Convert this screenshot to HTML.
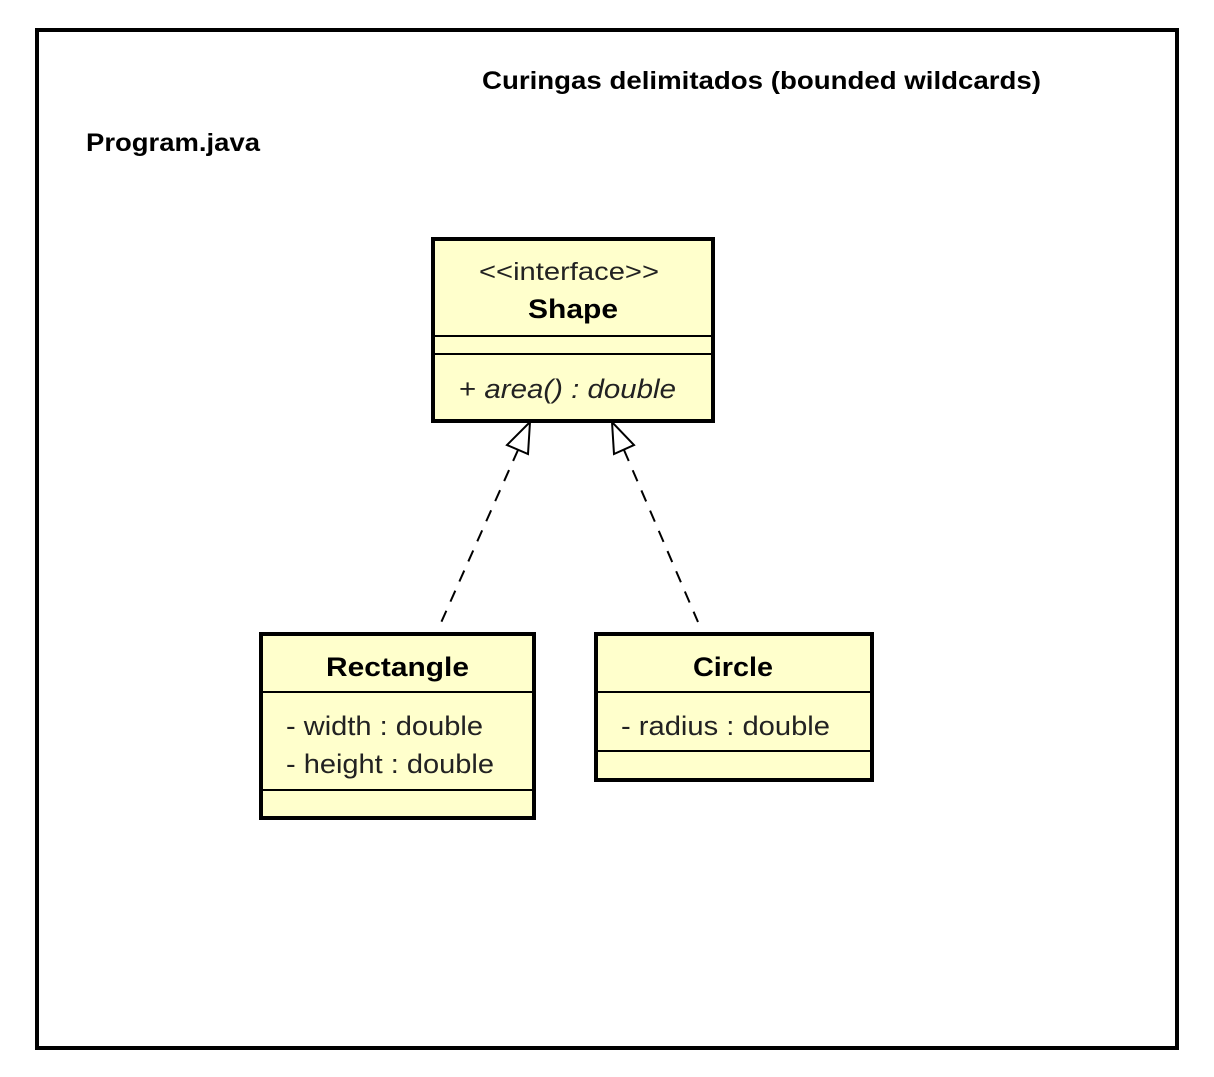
<!DOCTYPE html>
<html><head><style>body{margin:0;background:#fff}</style></head><body>
<svg width="1214" height="1072" xmlns="http://www.w3.org/2000/svg" font-family="Liberation Sans, Arial, sans-serif">
<rect x="37" y="30" width="1140" height="1018" fill="#fff" stroke="#000" stroke-width="4"/>
<text x="482" y="89" font-size="25" font-weight="bold" textLength="559" lengthAdjust="spacingAndGlyphs">Curingas delimitados (bounded wildcards)</text>
<text x="86" y="151" font-size="25" font-weight="bold" textLength="174" lengthAdjust="spacingAndGlyphs">Program.java</text>
<g stroke="#000" stroke-width="2" fill="none">
<line x1="518" y1="450" x2="440" y2="625" stroke-dasharray="12,10"/>
<line x1="624" y1="450" x2="698" y2="622" stroke-dasharray="12,10"/>
</g>
<polygon points="530,422 528,454 507,445" fill="#fff" stroke="#000" stroke-width="2"/>
<polygon points="612,422 614,454 634,445" fill="#fff" stroke="#000" stroke-width="2"/>
<rect x="433" y="239" width="280" height="182" fill="#ffffcc" stroke="#000" stroke-width="4"/>
<line x1="435" y1="336" x2="711" y2="336" stroke="#000" stroke-width="2"/>
<line x1="435" y1="354" x2="711" y2="354" stroke="#000" stroke-width="2"/>
<text x="479" y="280" font-size="25" fill="#222" textLength="180" lengthAdjust="spacingAndGlyphs">&lt;&lt;interface&gt;&gt;</text>
<text x="528" y="318" font-size="27" font-weight="bold" textLength="90" lengthAdjust="spacingAndGlyphs">Shape</text>
<text x="459" y="398" font-size="27" fill="#222" textLength="217" lengthAdjust="spacingAndGlyphs"><tspan>+ </tspan><tspan font-style="italic">area() : double</tspan></text>
<rect x="261" y="634" width="273" height="184" fill="#ffffcc" stroke="#000" stroke-width="4"/>
<line x1="263" y1="692" x2="532" y2="692" stroke="#000" stroke-width="2"/>
<line x1="263" y1="790" x2="532" y2="790" stroke="#000" stroke-width="2"/>
<text x="326" y="676" font-size="27" font-weight="bold" textLength="143" lengthAdjust="spacingAndGlyphs">Rectangle</text>
<text x="286" y="735" font-size="27" fill="#222" textLength="197" lengthAdjust="spacingAndGlyphs">- width : double</text>
<text x="286" y="773" font-size="27" fill="#222" textLength="208" lengthAdjust="spacingAndGlyphs">- height : double</text>
<rect x="596" y="634" width="276" height="146" fill="#ffffcc" stroke="#000" stroke-width="4"/>
<line x1="598" y1="692" x2="870" y2="692" stroke="#000" stroke-width="2"/>
<line x1="598" y1="751" x2="870" y2="751" stroke="#000" stroke-width="2"/>
<text x="693" y="676" font-size="27" font-weight="bold" textLength="80" lengthAdjust="spacingAndGlyphs">Circle</text>
<text x="621" y="735" font-size="27" fill="#222" textLength="209" lengthAdjust="spacingAndGlyphs">- radius : double</text>
</svg>
</body></html>
